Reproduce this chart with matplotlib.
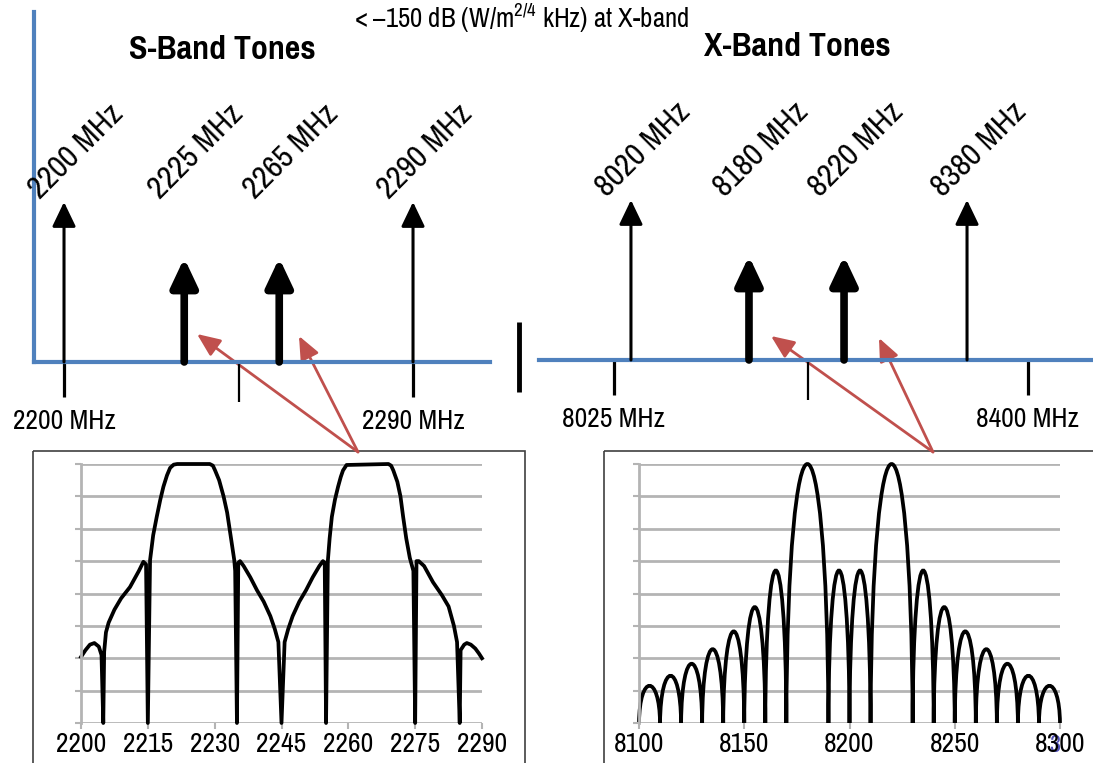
import matplotlib.pyplot as plt
from matplotlib.patches import Rectangle, PathPatch
from matplotlib.path import Path

plt.rcParams['font.family'] = ['Pragati Narrow', 'Liberation Sans', 'DejaVu Sans']
plt.rcParams['mathtext.fontset'] = 'custom'
plt.rcParams['mathtext.rm'] = 'Pragati Narrow'

W, H = 1093, 763

# ---- top: tone diagrams (positions along the axis are schematic, as drawn) ----
s_tone_labels = ['2200 MHz', '2225 MHz', '2265 MHz', '2290 MHz']
s_tone_pos = [2200, 2231, 2255.5, 2290]
s_tone_level = [1.0, 0.65, 0.65, 1.0]
s_axis_ticks = [2200, 2290]
s_axis_labels = ['2200 MHz', '2290 MHz']
s_mid_tick = [2245]

x_tone_labels = ['8020 MHz', '8180 MHz', '8220 MHz', '8380 MHz']
x_tone_pos = [8040.4, 8147.3, 8233.4, 8344.8]
x_tone_level = [1.0, 0.65, 0.65, 1.0]
x_axis_ticks = [8025, 8400]
x_axis_labels = ['8025 MHz', '8400 MHz']
x_mid_tick = [8201]

# ---- bottom: spectra ----
s_spec_x = [2200, 2201, 2202, 2203, 2204, 2204.6, 2205,
            2205.2, 2205.6, 2206.2, 2207.5, 2209, 2211, 2213, 2214, 2214.6, 2215,
            2215.5, 2216.2, 2217, 2217.8, 2218.5, 2219.3, 2220, 2220.8, 2221.6, 2228.9, 2229.6, 2230.1,
            2231, 2232, 2232.8, 2233.5, 2234, 2234.4, 2234.6, 2235,
            2235.3, 2235.7, 2236.5, 2238, 2239.5, 2241, 2242.5, 2243.5, 2244.3, 2245,
            2245.7, 2246.5, 2247.5, 2249, 2250.5, 2252, 2253.5, 2254.3, 2254.7, 2255,
            2255.4, 2255.8, 2256.3, 2257, 2257.7, 2258.3, 2258.8, 2259.6, 2269, 2269.6, 2270.1,
            2271, 2271.7, 2272.3, 2273, 2273.8, 2274.6, 2275,
            2275.3, 2275.8, 2277, 2279, 2281, 2282.5, 2283.7, 2284.4, 2285,
            2285.2, 2286, 2286.6, 2287.5, 2288.5, 2289.3, 2290]
s_spec_y = [2.04, 2.25, 2.42, 2.47, 2.36, 2.1, 0,
            2.2, 2.8, 3.1, 3.5, 3.85, 4.2, 4.7, 4.98, 4.9, 0,
            5.03, 5.8, 6.37, 6.9, 7.3, 7.65, 7.88, 7.98, 8.0, 8.0, 7.95, 7.8,
            7.5, 7.0, 6.5, 5.86, 5.4, 5.03, 4.7, 0,
            4.95, 5.0, 4.85, 4.5, 4.1, 3.75, 3.3, 2.9, 2.5, 0,
            2.5, 2.9, 3.3, 3.75, 4.1, 4.5, 4.85, 5.0, 4.95, 0,
            5.0, 5.7, 6.37, 6.9, 7.3, 7.6, 7.8, 7.97, 8.0, 7.95, 7.8,
            7.45, 7.0, 6.37, 5.7, 5.1, 4.7, 0,
            5.0, 5.0, 4.85, 4.35, 3.95, 3.6, 3.0, 2.5, 0,
            2.25, 2.42, 2.47, 2.42, 2.3, 2.15, 2.0]
s_spec_ticks = [2200, 2215, 2230, 2245, 2260, 2275, 2290]

x_nulls = [8100, 8110, 8120, 8130, 8140, 8150, 8160, 8170, 8190, 8200,
           8210, 8230, 8240, 8250, 8260, 8270, 8280, 8290, 8300]
x_lobe_peaks = [1.15, 1.46, 1.83, 2.28, 2.83, 3.58, 4.71, 8.0, 4.71,
                4.71, 8.0, 4.71, 3.58, 2.83, 2.28, 1.83, 1.46, 1.15]
x_spec_ticks = [8100, 8150, 8200, 8250, 8300]

blue = '#4f81bd'
red = '#c0504d'
gray = '#b4b4b4'


def px_axes(fig, x0, y0, x1, y1):
    return fig.add_axes([x0 / W, 1 - y1 / H, (x1 - x0) / W, (y1 - y0) / H])


fig = plt.figure(figsize=(W / 100, H / 100), dpi=100)

# overlay for decoration in pixel coordinates
ov = fig.add_axes([0, 0, 1, 1])
ov.set_xlim(0, W)
ov.set_ylim(H, 0)
ov.axis('off')


def tone_axes(x0, x1, base, left_spine, xlim, ticks, tlabels, mid, pos, level, labels):
    ax = px_axes(fig, x0, 12, x1, base)
    ax.set_xlim(*xlim)
    ax.set_ylim(0, (base - 12) / 160.0)
    ax.patch.set_visible(False)
    for s in ['top', 'right']:
        ax.spines[s].set_visible(False)
    ax.spines['left'].set_visible(left_spine)
    ax.spines['left'].set_color(blue)
    ax.spines['left'].set_linewidth(3)
    ax.spines['bottom'].set_color(blue)
    ax.spines['bottom'].set_linewidth(3)
    ax.set_yticks([])
    ax.set_xticks(ticks)
    ax.set_xticklabels(tlabels, fontsize=21.5)
    ax.set_xticks(mid, minor=True)
    ax.tick_params(axis='x', which='major', length=25, width=2.3, color='black', pad=9)
    ax.tick_params(axis='x', which='minor', length=29, width=1.6, color='black')
    for x, h, lab in zip(pos, level, labels):
        thin = h >= 1.0
        ax.annotate('', xy=(x, h), xytext=(x, 0),
                    arrowprops=dict(arrowstyle='-|>,head_length=0.75,head_width=0.36' if thin
                                    else '-|>,head_length=0.85,head_width=0.4',
                                    lw=2.2 if thin else 5.5, color='black',
                                    mutation_scale=20, shrinkA=0, shrinkB=0))
        ax.annotate(lab, xy=(x, 1.01), xytext=(-24, 0), textcoords='offset pixels',
                    rotation=45, rotation_mode='anchor', ha='left', va='baseline',
                    fontsize=25)
    return ax


tone_axes(34, 490, 362, True, (2192.26, 2309.85), s_axis_ticks, s_axis_labels,
          s_mid_tick, s_tone_pos, s_tone_level, s_tone_labels)
tone_axes(539, 1093, 360, False, (7957.1, 8458.9), x_axis_ticks, x_axis_labels,
          x_mid_tick, x_tone_pos, x_tone_level, x_tone_labels)

# titles and note
ov.text(222, 50, 'S-Band Tones', fontsize=26.5, fontweight='bold', ha='center', va='center')
ov.text(797, 47, 'X-Band Tones', fontsize=26.5, fontweight='bold', ha='center', va='center')
ov.text(522, 18, r'< –150 dB (W/m$^{2/4}$ kHz) at X-band', fontsize=21, ha='center', va='center')

# separator
ov.plot([519, 519], [322, 392], color='black', lw=3.5, solid_capstyle='butt')

# red pointer arrows
for (sx, sy), tips in [((358, 452), [(197, 334), (299, 336)]),
                       ((933, 452), [(771, 336), (879, 338)])]:
    for tx, ty in tips:
        ov.annotate('', xy=(tx, ty), xytext=(sx, sy),
                    arrowprops=dict(arrowstyle='-|>,head_length=0.7,head_width=0.3',
                                    lw=2, color=red, mutation_scale=20,
                                    shrinkA=0, shrinkB=0))

# boxes
ov.add_patch(Rectangle((33, 451), 525 - 33, 330, fill=False, ec='#404040', lw=1.2))
ov.add_patch(Rectangle((604, 451), 600, 330, fill=False, ec='#404040', lw=1.2))


def spec_axes(x0, x1, xlim, ticks):
    ax = px_axes(fig, x0, 464, x1, 723)
    ax.set_xlim(*xlim)
    ax.set_ylim(0, 8)
    ax.patch.set_visible(False)
    for s in ['top', 'right', 'bottom']:
        ax.spines[s].set_visible(False)
    ax.spines['left'].set_color(gray)
    ax.spines['left'].set_linewidth(2)
    for g in range(9):
        ax.axhline(g, color=gray, lw=2, zorder=0)
    ax.set_yticks(range(9))
    ax.set_yticklabels([])
    ax.set_xticks(ticks)
    ax.set_xticklabels([str(t) for t in ticks], fontsize=21.5)
    ax.tick_params(axis='both', length=4.5, width=1.5, color=gray, pad=2)
    return ax


axl = spec_axes(81, 482, (2200, 2290), s_spec_ticks)
axl.plot(s_spec_x, s_spec_y, color='black', lw=2.7, clip_on=False, solid_joinstyle='round')

axr = spec_axes(639, 1060, (8100, 8300), x_spec_ticks)
verts = [(x_nulls[0], 0)]
codes = [Path.MOVETO]
for i, h in enumerate(x_lobe_peaks):
    a, b = x_nulls[i], x_nulls[i + 1]
    w = b - a
    verts += [(a + 0.03 * w, h * 4 / 3), (b - 0.03 * w, h * 4 / 3), (b, 0)]
    codes += [Path.CURVE4] * 3
axr.add_patch(PathPatch(Path(verts, codes), fill=False, ec='black', lw=2.7, clip_on=False))

# slide number mark sitting over the second digit of the last tick label
ov.text(1055, 746, '3', fontsize=19, color='#3030a8', ha='center', va='center', alpha=0.85)

fig.savefig('out.png', dpi=100)
